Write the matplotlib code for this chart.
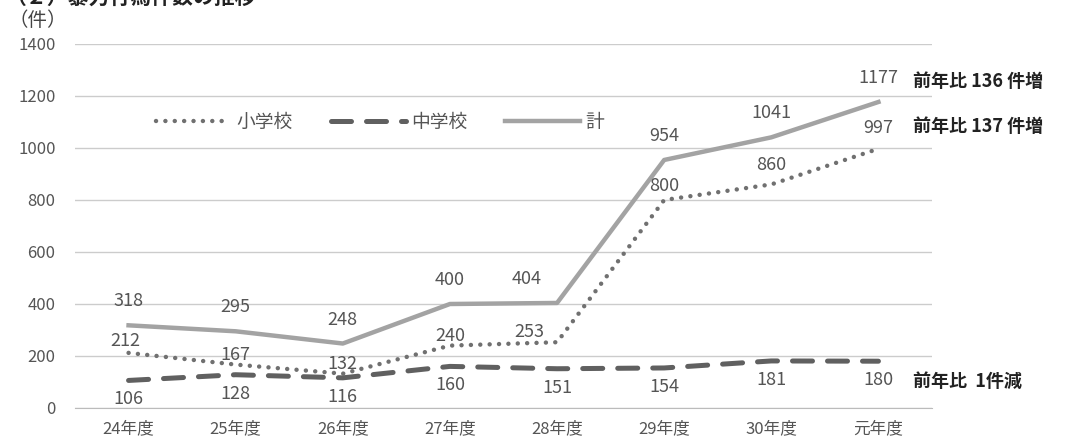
import matplotlib.pyplot as plt

plt.rcParams['font.family'] = ['Noto Sans CJK JP', 'DejaVu Sans']

years = ['24年度', '25年度', '26年度', '27年度', '28年度', '29年度', '30年度', '元年度']
elementary = [212, 167, 132, 240, 253, 800, 860, 997]
junior = [106, 128, 116, 160, 151, 154, 181, 180]
total = [318, 295, 248, 400, 404, 954, 1041, 1177]
notes = ['前年比 136 件増', '前年比 137 件増', '前年比  1件減']

fig = plt.figure(figsize=(10.76, 4.43), dpi=100)
ax = fig.add_axes([75 / 1076, 35 / 443, 857 / 1076, 364 / 443])

x = list(range(len(years)))
ax.plot(x, elementary, color='#707070', lw=3.2, linestyle=(0, (0.01, 2.1)),
        dash_capstyle='round', label='小学校')
ax.plot(x, junior, color='#606060', lw=3.6, linestyle=(0, (4, 3)),
        dash_capstyle='round', label='中学校')
ax.plot(x, total, color='#a3a3a3', lw=3.2, label='計')

lab = dict(fontsize=13, color='#555555', ha='center', va='center',
           textcoords='offset pixels')
for i, v in enumerate(total):
    dx = -30 if i == 4 else 0
    ax.annotate(str(v), (i, v), xytext=(dx, 24), **lab)
for i, v in enumerate(elementary):
    dx = {0: -3, 4: -28}.get(i, 0)
    dy = {0: 12, 5: 14, 6: 19, 7: 21}.get(i, 10)
    ax.annotate(str(v), (i, v), xytext=(dx, dy), **lab)
for i, v in enumerate(junior):
    ax.annotate(str(v), (i, v), xytext=(0, -19), **lab)

# right-side notes
ax.annotate(notes[0], (x[-1], total[-1]), xytext=(35, 20), textcoords='offset pixels',
            fontsize=13, fontweight='bold', color='#222222', va='center', ha='left',
            annotation_clip=False)
ax.annotate(notes[1], (x[-1], elementary[-1]), xytext=(35, 22), textcoords='offset pixels',
            fontsize=13, fontweight='bold', color='#222222', va='center', ha='left',
            annotation_clip=False)
ax.annotate(notes[2], (x[-1], junior[-1]), xytext=(35, -20), textcoords='offset pixels',
            fontsize=13, fontweight='bold', color='#222222', va='center', ha='left',
            annotation_clip=False)

ax.set_xlim(-0.5, len(years) - 0.5)
ax.set_ylim(0, 1400)
ax.set_yticks(range(0, 1401, 200))
ax.set_xticks(x)
ax.set_xticklabels(years)
ax.tick_params(length=0, labelsize=12, labelcolor='#555555')
ax.tick_params(axis='x', pad=9)
ax.tick_params(axis='y', pad=14)
ax.grid(axis='y', color='#cccccc', lw=1)
ax.set_axisbelow(True)
for s in ['top', 'right', 'left']:
    ax.spines[s].set_visible(False)
ax.spines['bottom'].set_color('#bbbbbb')

leg = ax.legend(loc='upper left', bbox_to_anchor=(0.075, 0.86), ncol=3, frameon=False,
                fontsize=13.5, handlelength=4.0, columnspacing=2.0, handletextpad=0.3)
for t in leg.get_texts():
    t.set_color('#555555')

fig.text(8 / 1076, 1 - 21 / 443, '（件）', fontsize=14, color='#444444', va='center')
fig.text(5 / 1076, 1 + 3 / 443, '（２）暴力行為件数の推移', fontsize=15, fontweight='bold',
         color='#222222', va='center')

fig.savefig('out.png', dpi=100)
